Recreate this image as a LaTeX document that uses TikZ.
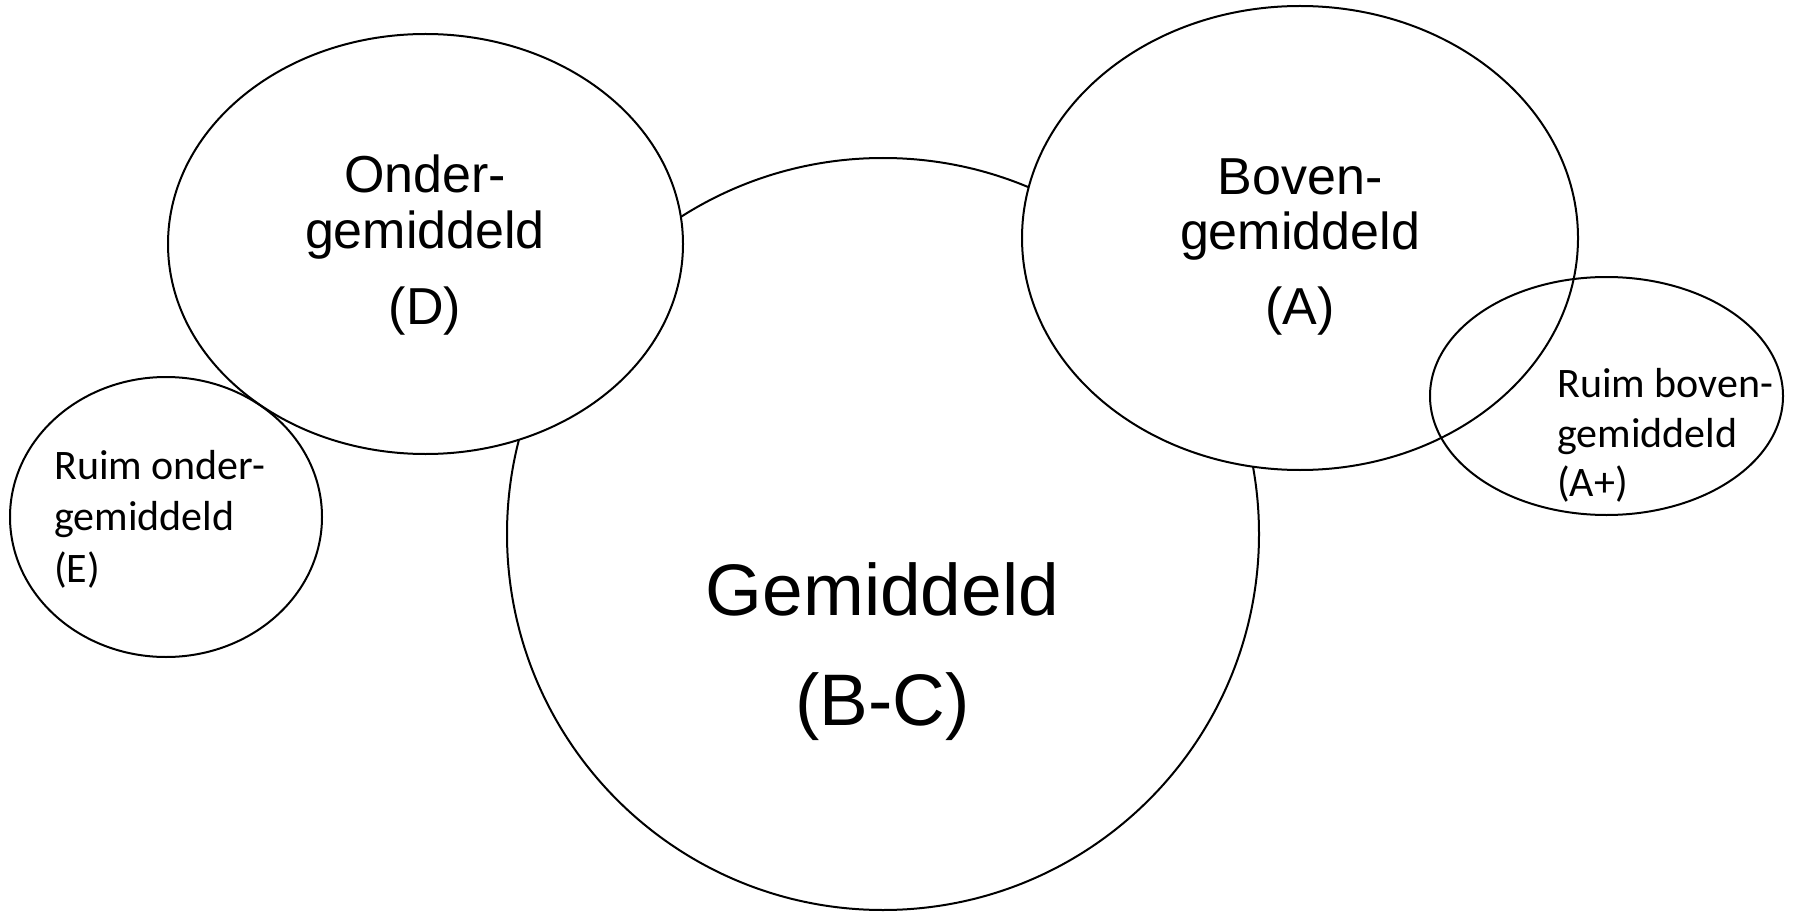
\documentclass[tikz,border=0pt]{standalone}
\usepackage{fontspec}
\setmainfont{Liberation Sans}
\newfontfamily\calibri{Carlito}
\usetikzlibrary{shapes.geometric}
\begin{document}
\begin{tikzpicture}[x=1pt,y=-1pt,
  bubble/.style={draw=black, line width=2pt, fill=white, inner sep=0pt},
  ring/.style={draw=black, line width=2pt, inner sep=0pt},
  bigtxt/.style={inner sep=0pt, anchor=base, font=\fontsize{52}{60}\selectfont},
  hugetxt/.style={inner sep=0pt, anchor=base, font=\fontsize{73}{84}\selectfont},
  smalltxt/.style={inner sep=0pt, anchor=base west, font=\calibri\fontsize{42}{50}\selectfont}]
\useasboundingbox (0,0) rectangle (1794,912);
\node[bubble, circle, minimum size=752pt] (gem) at (883,534) {};
\node[bubble, ellipse, minimum width=515pt, minimum height=420pt] (onder) at (425.5,244) {};
\node[bubble, ellipse, minimum width=556pt, minimum height=464pt] (boven) at (1300,238) {};
\node[ring, ellipse, minimum width=312pt, minimum height=280pt] (ruimonder) at (166,517) {};
\node[ring, ellipse, minimum width=353pt, minimum height=238pt] (ruimboven) at (1606.5,396) {};
% texts
\node[hugetxt] (g1) at (882.5,615) {Gemiddeld};
\node[hugetxt] (g2) at (882.5,725) {(B-C)};
\node[bigtxt] (o1) at (425,193) {Onder-};
\node[bigtxt] (o2) at (425,248) {gemiddeld};
\node[bigtxt] (o3) at (425,324) {(D)};
\node[bigtxt] (b1) at (1300,195) {Boven-};
\node[bigtxt] (b2) at (1300,250) {gemiddeld};
\node[bigtxt] (b3) at (1300,324) {(A)};
\node[smalltxt] (e1) at (54,479) {Ruim onder-};
\node[smalltxt] (e2) at (54,530) {gemiddeld};
\node[smalltxt] (e3) at (54,582) {(E)};
\node[smalltxt] (a1) at (1557,397) {Ruim boven-};
\node[smalltxt] (a2) at (1557,447) {gemiddeld};
\node[smalltxt] (a3) at (1557,496) {(A+)};
\end{tikzpicture}
\end{document}
